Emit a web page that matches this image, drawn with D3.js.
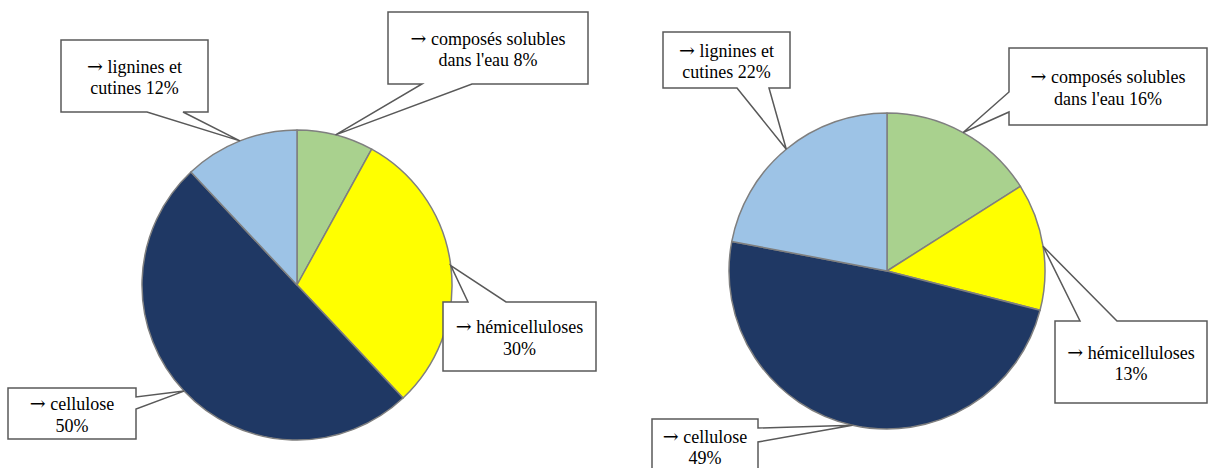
<!DOCTYPE html>
<html>
<head>
<meta charset="utf-8">
<script src="https://cdn.jsdelivr.net/npm/d3@7"></script>
<style>
  html, body { margin: 0; padding: 0; background: #fff; }
  svg { display: block; }
</style>
</head>
<body>
<svg id="chart" width="1208" height="468"></svg>
<script>
// ---- data ----
const categories = ["composés solubles dans l'eau", "hémicelluloses", "cellulose", "lignines et cutines"];
const leftValues = [8, 30, 50, 12];
const rightValues = [16, 13, 49, 22];
const leftLabels = [
  ["→ composés solubles", "dans l'eau 8%"],
  ["→ hémicelluloses", "30%"],
  ["→ cellulose", "50%"],
  ["→ lignines et", "cutines 12%"]
];
const rightLabels = [
  ["→ composés solubles", "dans l'eau 16%"],
  ["→ hémicelluloses", "13%"],
  ["→ cellulose", "49%"],
  ["→ lignines et", "cutines 22%"]
];
const colors = ["#A9D18E", "#FFFF00", "#1F3864", "#9DC3E6"];

// ---- layout (callout boxes: x0, y0, x1, y1, side of pointer, pointer base) ----
const leftLayout = {
  cx: 297, cy: 285, r: 155,
  boxes: [
    { b: [388, 12, 588, 84], side: "bottom", base: [422, 472] },
    { b: [443, 302, 596, 371], side: "top", base: [468, 506] },
    { b: [8, 388, 136, 439], side: "right", base: [397, 409] },
    { b: [61, 40, 208, 112], side: "bottom", base: [147, 183] }
  ]
};
const rightLayout = {
  cx: 887, cy: 271, r: 158,
  boxes: [
    { b: [1009, 48, 1207, 125], side: "left", base: [92, 112] },
    { b: [1055, 321, 1207, 403], side: "top", base: [1080, 1117] },
    { b: [652, 419, 758, 476], side: "right", base: [428, 442] },
    { b: [663, 32, 790, 88], side: "bottom", base: [737, 769] }
  ]
};

const svg = d3.select("#chart");
const color = d3.scaleOrdinal().domain(categories).range(colors);

function calloutPath(box, tip) {
  const [x0, y0, x1, y1] = box.b;
  const [p, q] = box.base.slice().sort((a, b) => a - b);
  let pts;
  if (box.side === "bottom") {
    pts = [[x0, y0], [x1, y0], [x1, y1], [q, y1], tip, [p, y1], [x0, y1]];
  } else if (box.side === "top") {
    pts = [[x0, y0], [p, y0], tip, [q, y0], [x1, y0], [x1, y1], [x0, y1]];
  } else if (box.side === "right") {
    pts = [[x0, y0], [x1, y0], [x1, p], tip, [x1, q], [x1, y1], [x0, y1]];
  } else {
    pts = [[x0, y0], [x1, y0], [x1, y1], [x0, y1], [x0, q], tip, [x0, p]];
  }
  return "M" + pts.map(d => d.join(",")).join("L") + "Z";
}

function drawPie(values, labels, layout) {
  const data = categories.map((c, i) => ({ cat: c, value: values[i], label: labels[i], box: layout.boxes[i] }));
  const pie = d3.pie().sort(null).value(d => d.value).startAngle(0).endAngle(2 * Math.PI);
  const arcs = pie(data);
  const arc = d3.arc().innerRadius(0).outerRadius(layout.r);
  const edge = d3.arc().innerRadius(layout.r).outerRadius(layout.r);

  const g = svg.append("g").attr("transform", `translate(${layout.cx},${layout.cy})`);
  g.selectAll("path.slice").data(arcs).join("path")
    .attr("class", "slice")
    .attr("d", arc)
    .attr("fill", d => color(d.data.cat))
    .attr("stroke", "#7F7F7F")
    .attr("stroke-width", 1.5)
    .attr("stroke-linejoin", "round");

  const lg = svg.append("g");
  arcs.forEach(a => {
    const c = edge.centroid(a);
    const tip = [layout.cx + c[0], layout.cy + c[1]];
    const box = a.data.box;
    lg.append("path")
      .attr("d", calloutPath(box, tip))
      .attr("fill", "#fff")
      .attr("stroke", "#595959")
      .attr("stroke-width", 1.5)
      .attr("stroke-linejoin", "miter");
    const mx = (box.b[0] + box.b[2]) / 2;
    const my = Math.min((box.b[1] + box.b[3]) / 2, 446);
    const t = lg.append("text")
      .attr("x", mx)
      .attr("text-anchor", "middle")
      .attr("font-family", "Liberation Serif")
      .attr("font-size", 18)
      .attr("fill", "#000");
    a.data.label.forEach((line, i) => {
      const y = my - 3.5 + i * 21.5;
      if (line.startsWith("→")) {
        const tl = t.append("tspan").attr("x", mx).attr("y", y);
        tl.append("tspan").attr("font-family", "DejaVu Serif").attr("font-size", 19).text("→");
        tl.append("tspan").text(line.slice(1));
      } else {
        t.append("tspan").attr("x", mx).attr("y", y).text(line);
      }
    });
  });
}

drawPie(leftValues, leftLabels, leftLayout);
drawPie(rightValues, rightLabels, rightLayout);
</script>
</body>
</html>
